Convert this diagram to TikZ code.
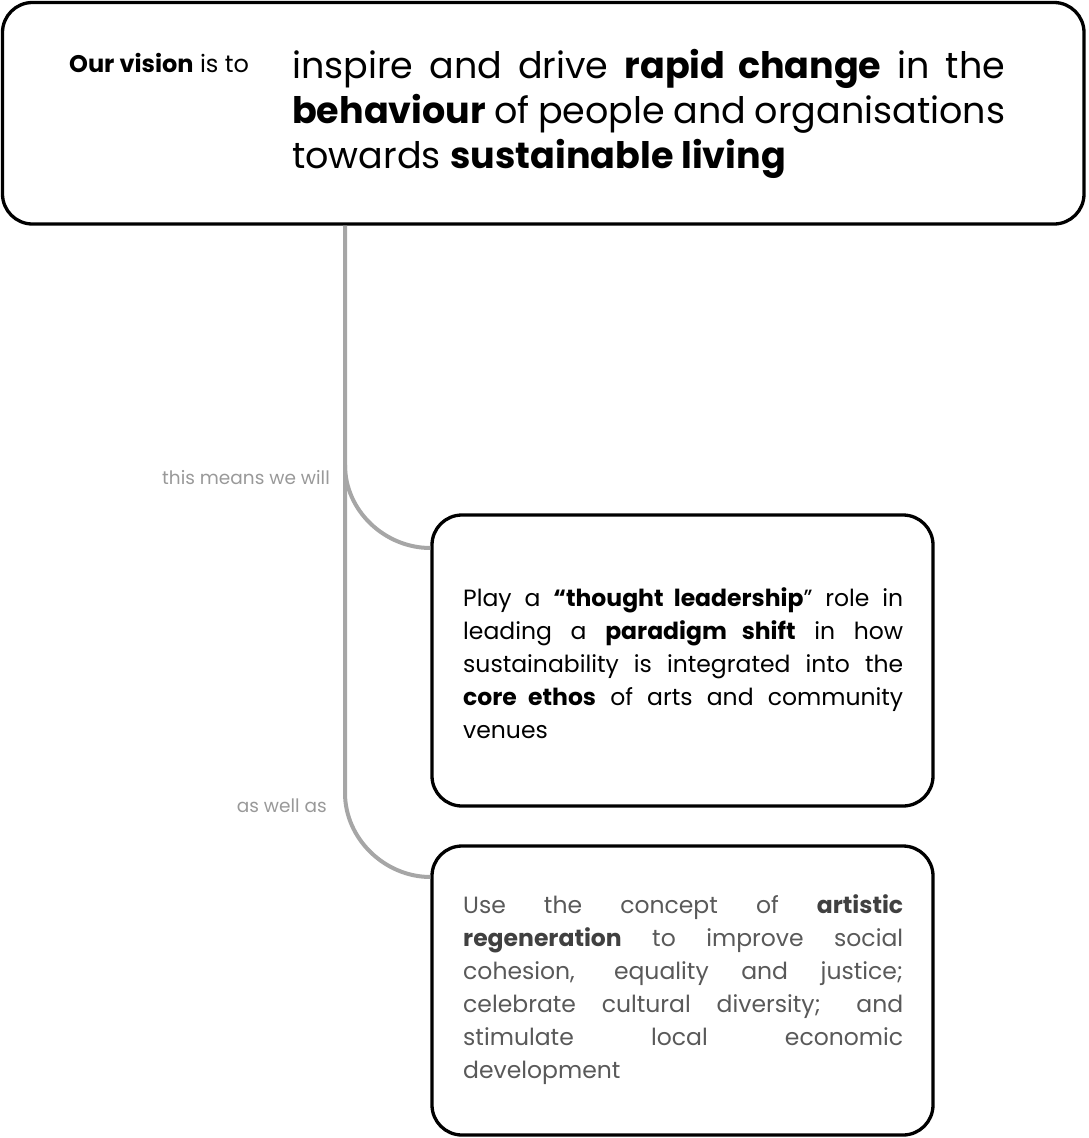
\documentclass[tikz,border=0pt]{standalone}
\usepackage{fontspec}
\setmainfont{Poppins}
\usetikzlibrary{calc}
\definecolor{trunkgrey}{HTML}{A6A6A6}
\definecolor{lblgrey}{HTML}{999999}
\definecolor{bodygrey}{HTML}{595959}
\definecolor{boldgrey}{HTML}{404040}
\newcommand\jrow[2]{\hbox to #1{#2}}
\begin{document}
\begin{tikzpicture}[x=1pt,y=-1pt,
  panel/.style={draw=black, line width=3.3pt, rounded corners=30pt, inner sep=0pt, outer sep=0pt, anchor=north west},
  link/.style={draw=trunkgrey, line width=4pt},
  lbl/.style={text=lblgrey, font=\fontsize{18.5}{22}\selectfont, inner sep=0pt, anchor=base east},
  txt/.style={inner sep=0pt, anchor=base west}]
\useasboundingbox (0,0) rectangle (1088,1138);

% boxes
\node[panel, minimum width=1081.5pt, minimum height=221.5pt] (vision) at (2.5,2.5) {};
\node[panel, minimum width=501pt, minimum height=291pt] (b2) at (432,515) {};
\node[panel, minimum width=501pt, minimum height=289pt] (b3) at (432,846) {};

% top text
\node[txt] (ov) at (69,72) {\fontsize{24}{28}\selectfont\textbf{Our vision} is to};
\node[txt] (vt) at (292,78) {\fontsize{36.5}{45}\selectfont\vtop{%
  \jrow{713pt}{inspire and drive \textbf{rapid change} in the}%
  \jrow{713pt}{\textbf{behaviour} of people and organisations}%
  \hbox{towards \textbf{sustainable living}}}};

% box 2 text
\node[txt] (t2) at (463,606) {\fontsize{23.5}{33}\selectfont\vtop{%
  \jrow{440pt}{Play a \textbf{“thought leadership}” role in}%
  \jrow{440pt}{leading a \textbf{paradigm shift} in how}%
  \jrow{440pt}{sustainability is integrated into the}%
  \jrow{440pt}{\textbf{core ethos} of arts and community}%
  \hbox{venues}}};

% box 3 text
\node[txt, text=bodygrey] (t3) at (463,913) {\fontsize{23.5}{33}\selectfont\vtop{%
  \jrow{440pt}{Use the concept of \textcolor{boldgrey}{\textbf{artistic}}}%
  \jrow{440pt}{\textcolor{boldgrey}{\textbf{regeneration}} to improve social}%
  \jrow{440pt}{cohesion, equality and justice;}%
  \jrow{440pt}{celebrate cultural diversity; and}%
  \jrow{440pt}{stimulate local economic}%
  \hbox{development}}};

% labels
\node[lbl] (l1) at (330,484) {this means we will};
\node[lbl] (l2) at (327,812) {as well as};

% connectors
\coordinate (j1) at (345,465);
\coordinate (j2) at (345,793);
\coordinate (b2e) at ($(b2.north west)+(0,33)$);
\coordinate (b3e) at ($(b3.north west)+(0,31)$);
\draw[link, shorten <=1.65pt] (vision.south -| j1) -- (j2)
  .. controls ($(j2)+(0,46)$) and ($(b3e)+(-47,0)$) .. ($(b3e)+(-1.6,0)$);
\draw[link] (j1) .. controls ($(j1)+(0,46)$) and ($(b2e)+(-47,0)$) .. ($(b2e)+(-1.6,0)$);
\end{tikzpicture}
\end{document}
